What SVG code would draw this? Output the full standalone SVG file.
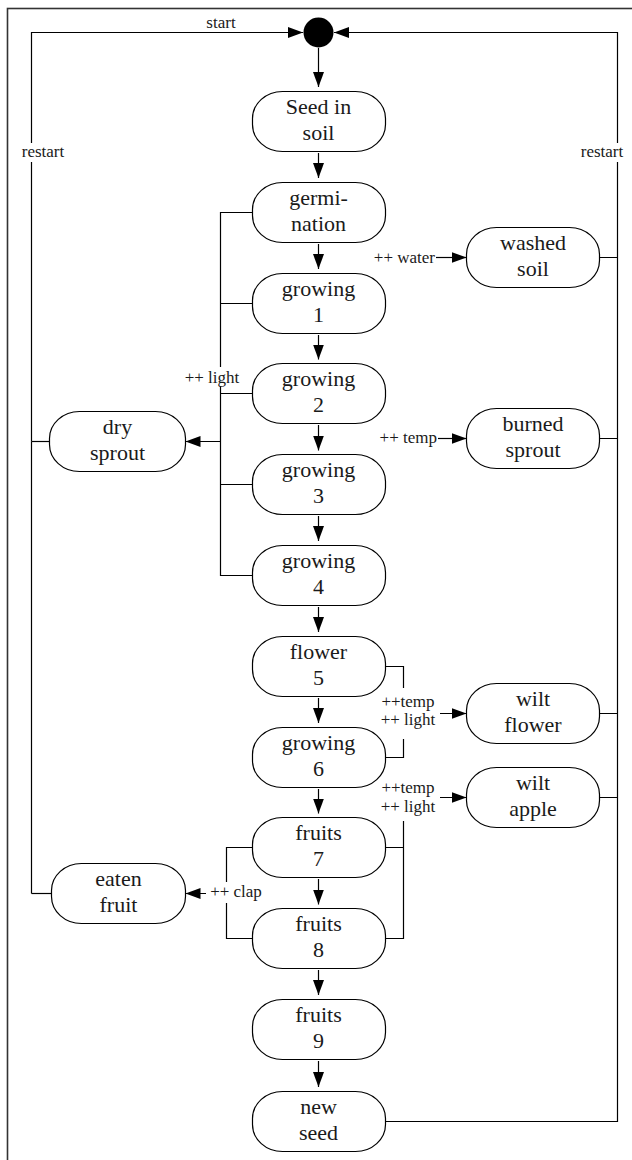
<svg xmlns="http://www.w3.org/2000/svg" width="632" height="1160" viewBox="0 0 632 1160">
<style>
.n{fill:#fff;stroke:#000;stroke-width:1.2}
.t{font-family:"Liberation Serif","Times New Roman",serif;font-size:22px;fill:#1a1a1a;text-anchor:middle}
.l{font-family:"Liberation Serif","Times New Roman",serif;font-size:17px;fill:#1a1a1a;text-anchor:middle}
.c{fill:none;stroke:#000;stroke-width:1.2}
.a{fill:none;stroke:#000;stroke-width:1.2;marker-end:url(#ah)}
.bg{fill:#fff;stroke:none}
</style>
<defs>
<marker id="ah" markerUnits="userSpaceOnUse" markerWidth="16" markerHeight="12" refX="15" refY="6" orient="auto">
<path d="M0,0.5 L15,6 L0,11.5 z" fill="#000"/>
</marker>
</defs>
<rect x="7.5" y="8.5" width="700" height="1200" fill="none" stroke="#333" stroke-width="1.6"/>
<g id="connectors">
<path class="a" d="M31.5,441.5 V32.5 H303"/>
<path class="c" d="M31.5,893.5 V441.5"/>
<path class="c" d="M31.5,441.5 H49.5"/>
<path class="c" d="M31.5,893.5 H51.5"/>
<path class="a" d="M385.5,1121.5 H617.5 V32.5 H334"/>
<path class="c" d="M599.5,257.5 H617.5 M599.5,438.5 H617.5 M599.5,713.5 H617.5 M599.5,797.5 H617.5"/>
<path class="a" d="M318.5,48 V87"/>
<path class="a" d="M318.5,153 V178"/>
<path class="a" d="M318.5,244 V269"/>
<path class="a" d="M318.5,335 V359.5"/>
<path class="a" d="M318.5,425 V450.5"/>
<path class="a" d="M318.5,516 V541"/>
<path class="a" d="M318.5,607 V632"/>
<path class="a" d="M318.5,698 V723"/>
<path class="a" d="M318.5,789 V813.5"/>
<path class="a" d="M318.5,879 V904.5"/>
<path class="a" d="M318.5,970 V995"/>
<path class="a" d="M318.5,1061 V1087"/>
<path class="c" d="M252.5,212.5 H220.5 V575.5 H252.5 M220.5,303.5 H252.5 M220.5,393.5 H252.5 M220.5,484.5 H252.5"/>
<path class="a" d="M220.5,441.5 H185.5"/>
<path class="a" d="M436,257.5 H466.5"/>
<path class="a" d="M438,438.5 H466.5"/>
<path class="c" d="M385.5,666.5 H403.5 V757.5 H385.5"/>
<path class="a" d="M403.5,713.5 H466.5"/>
<path class="c" d="M385.5,847.5 H403.5 V938.5 H385.5 M403.5,847.5 V797.5"/>
<path class="a" d="M403.5,797.5 H466.5"/>
<path class="c" d="M252.5,847.5 H226.5 V938.5 H252.5"/>
<path class="a" d="M226.5,893.5 H185.5"/>
<text class="l" x="221" y="28">start</text>
<rect class="bg" x="19" y="143" width="48" height="19"/>
<text class="l" x="43" y="157">restart</text>
<rect class="bg" x="579" y="143" width="46" height="19"/>
<text class="l" x="602" y="157">restart</text>
<text class="l" x="435" y="263" style="text-anchor:end">++ water</text>
<text class="l" x="437" y="443" style="text-anchor:end">++ temp</text>
<rect class="bg" x="183" y="367" width="58" height="19"/>
<text class="l" x="212" y="383">++ light</text>
<rect class="bg" x="376" y="688" width="64" height="51"/>
<text class="l" x="408" y="707">++temp</text>
<text class="l" x="408" y="725">++ light</text>
<rect class="bg" x="376" y="774" width="64" height="47"/>
<text class="l" x="408" y="793">++temp</text>
<text class="l" x="408" y="812">++ light</text>
<rect class="bg" x="206" y="882" width="59" height="21"/>
<text class="l" x="236" y="897">++ clap</text>
</g>
<g id="start"><circle cx="318.5" cy="32.5" r="15" fill="#000"/></g>
<g id="seed"><rect class="n" x="252.5" y="91.5" width="133" height="60" rx="30" ry="27"/><text class="t" x="318.5" y="113.5">Seed in</text><text class="t" x="318.5" y="139.5">soil</text></g>
<g id="germination"><rect class="n" x="252.5" y="182.5" width="133" height="60" rx="30" ry="27"/><text class="t" x="318.5" y="204.5">germi-</text><text class="t" x="318.5" y="230.5">nation</text></g>
<g id="growing1"><rect class="n" x="252.5" y="273.5" width="133" height="60" rx="30" ry="27"/><text class="t" x="318.5" y="295.5">growing</text><text class="t" x="318.5" y="321.5">1</text></g>
<g id="growing2"><rect class="n" x="252.5" y="363.5" width="133" height="60" rx="30" ry="27"/><text class="t" x="318.5" y="385.5">growing</text><text class="t" x="318.5" y="411.5">2</text></g>
<g id="growing3"><rect class="n" x="252.5" y="454.5" width="133" height="60" rx="30" ry="27"/><text class="t" x="318.5" y="476.5">growing</text><text class="t" x="318.5" y="502.5">3</text></g>
<g id="growing4"><rect class="n" x="252.5" y="545.5" width="133" height="60" rx="30" ry="27"/><text class="t" x="318.5" y="567.5">growing</text><text class="t" x="318.5" y="593.5">4</text></g>
<g id="flower5"><rect class="n" x="252.5" y="636.5" width="133" height="60" rx="30" ry="27"/><text class="t" x="318.5" y="658.5">flower</text><text class="t" x="318.5" y="684.5">5</text></g>
<g id="growing6"><rect class="n" x="252.5" y="727.5" width="133" height="60" rx="30" ry="27"/><text class="t" x="318.5" y="749.5">growing</text><text class="t" x="318.5" y="775.5">6</text></g>
<g id="fruits7"><rect class="n" x="252.5" y="817.5" width="133" height="60" rx="30" ry="27"/><text class="t" x="318.5" y="839.5">fruits</text><text class="t" x="318.5" y="865.5">7</text></g>
<g id="fruits8"><rect class="n" x="252.5" y="908.5" width="133" height="60" rx="30" ry="27"/><text class="t" x="318.5" y="930.5">fruits</text><text class="t" x="318.5" y="956.5">8</text></g>
<g id="fruits9"><rect class="n" x="252.5" y="999.5" width="133" height="60" rx="30" ry="27"/><text class="t" x="318.5" y="1021.5">fruits</text><text class="t" x="318.5" y="1047.5">9</text></g>
<g id="newseed"><rect class="n" x="252.5" y="1091.5" width="133" height="60" rx="30" ry="27"/><text class="t" x="318.5" y="1113.5">new</text><text class="t" x="318.5" y="1139.5">seed</text></g>
<g id="washedsoil"><rect class="n" x="466.5" y="227.5" width="133" height="60" rx="30" ry="27"/><text class="t" x="533" y="249.5">washed</text><text class="t" x="533" y="275.5">soil</text></g>
<g id="burnedsprout"><rect class="n" x="466.5" y="408.5" width="133" height="60" rx="30" ry="27"/><text class="t" x="533" y="430.5">burned</text><text class="t" x="533" y="456.5">sprout</text></g>
<g id="wiltflower"><rect class="n" x="466.5" y="683.5" width="133" height="60" rx="30" ry="27"/><text class="t" x="533" y="705.5">wilt</text><text class="t" x="533" y="731.5">flower</text></g>
<g id="wiltapple"><rect class="n" x="466.5" y="767.5" width="133" height="60" rx="30" ry="27"/><text class="t" x="533" y="789.5">wilt</text><text class="t" x="533" y="815.5">apple</text></g>
<g id="drysprout"><rect class="n" x="49.5" y="411.5" width="136" height="60" rx="30" ry="27"/><text class="t" x="117.5" y="433.5">dry</text><text class="t" x="117.5" y="459.5">sprout</text></g>
<g id="eatenfruit"><rect class="n" x="51.5" y="863.5" width="134" height="60" rx="30" ry="27"/><text class="t" x="118.5" y="885.5">eaten</text><text class="t" x="118.5" y="911.5">fruit</text></g>
</svg>
